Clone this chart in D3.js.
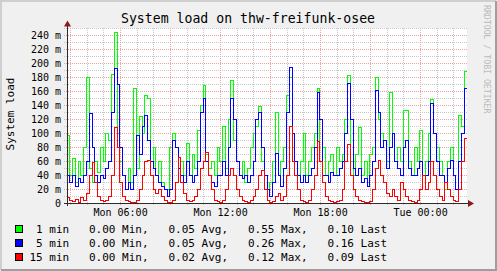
<!DOCTYPE html>
<html>
<head>
<meta charset="utf-8">
<script src="https://cdn.jsdelivr.net/npm/d3@7"></script>
<style>
  body { margin: 0; background: #f0f0f0; }
  svg { display: block; }
  text { font-family: "DejaVu Sans Mono", monospace; fill: #000; }
</style>
</head>
<body>
<svg id="chart" width="497" height="271"></svg>
<script>
// load values in milli, one per 10 minutes starting Mon 02:49
var load1 = [
  97, 40, 65, 30, 60, 40, 80, 180, 50, 30, 60, 45,
  80, 60, 100, 90, 185, 245, 100, 60, 40, 20, 50, 30,
  164, 50, 125, 100, 155, 150, 60, 80, 40, 60, 30, 20,
  20, 80, 100, 80, 50, 60, 40, 86, 40, 70, 50, 104,
  140, 169, 70, 50, 60, 40, 80, 60, 110, 50, 120, 176,
  90, 60, 40, 60, 30, 50, 80, 100, 110, 138, 60, 40,
  20, 30, 60, 130, 40, 60, 80, 154, 180, 80, 60, 40,
  60, 100, 40, 60, 80, 100, 165, 60, 80, 40, 60, 70,
  40, 80, 60, 70, 120, 183, 60, 40, 70, 109, 40, 60,
  30, 70, 80, 180, 120, 100, 90, 60, 159, 100, 60, 80,
  60, 133, 133, 60, 40, 80, 60, 104, 40, 60, 100, 149,
  100, 80, 60, 40, 20, 60, 80, 40, 20, 126, 110, 188
]
var load5 = [
  40, 30, 40, 25, 35, 30, 40, 60, 128, 80, 40, 30,
  40, 35, 50, 60, 130, 193, 170, 80, 40, 20, 30, 20,
  40, 97, 70, 110, 126, 90, 60, 50, 40, 30, 25, 20,
  10, 20, 90, 80, 50, 40, 30, 60, 40, 30, 40, 60,
  130, 150, 60, 40, 30, 25, 40, 40, 60, 40, 80, 150,
  120, 60, 40, 35, 40, 30, 40, 60, 120, 130, 80, 40,
  20, 10, 30, 71, 40, 25, 50, 130, 195, 100, 60, 40,
  30, 40, 30, 40, 50, 80, 159, 120, 40, 40, 30, 45,
  40, 40, 50, 60, 100, 171, 120, 50, 40, 50, 30, 35,
  25, 40, 60, 161, 130, 80, 90, 50, 80, 100, 60, 50,
  40, 80, 90, 50, 40, 40, 50, 60, 40, 40, 60, 143,
  100, 60, 40, 40, 30, 50, 61, 40, 20, 60, 100, 164
]
var load15 = [
  8, 5, 3, 6, 2, 8, 5, 15, 40, 59, 30, 10,
  5, 3, 5, 10, 40, 108, 80, 30, 10, 5, 3, 2,
  2, 5, 20, 40, 60, 61, 40, 20, 15, 20, 10, 5,
  2, 1, 5, 30, 66, 30, 15, 5, 3, 5, 10, 20,
  50, 60, 73, 40, 20, 5, 3, 2, 5, 20, 40, 50,
  40, 20, 10, 5, 3, 2, 5, 10, 20, 40, 47, 20,
  5, 2, 3, 10, 15, 5, 10, 40, 110, 60, 40, 20,
  5, 3, 2, 5, 20, 40, 88, 60, 30, 10, 5, 3,
  2, 3, 5, 20, 60, 85, 40, 20, 10, 5, 3, 2,
  2, 3, 20, 50, 61, 40, 30, 15, 10, 20, 10, 5,
  30, 20, 10, 5, 3, 2, 5, 20, 40, 20, 30, 60,
  40, 20, 10, 5, 30, 20, 10, 5, 3, 20, 60, 93
]
var seriesNames = [' 1 min', ' 5 min', '15 min']
var seriesColors = ['#00ff00', '#0000ff', '#ff0000']
var legendStats = [
  ['0.00', '0.05', '0.55', '0.10'],
  ['0.00', '0.05', '0.26', '0.16'],
  ['0.00', '0.02', '0.12', '0.09']
]
var yTicks = d3.range(0, 241, 20)

var startTime = new Date(2024, 0, 1, 2, 49),
    endTime = new Date(2024, 0, 2, 2, 49),
    stepMs = 10 * 60 * 1000

var svg = d3.select('#chart')
var W = 497, H = 271
var plotLeft = 67, plotRight = 467, plotTop = 28, plotBottom = 203

// background and frame
svg.append('rect').attr('width', W).attr('height', H).attr('fill', '#f0f0f0')
svg.append('path').attr('d', 'M1,' + (H - 1) + 'V1H' + (W - 1))
  .attr('fill', 'none').attr('stroke', '#cfcfcf').attr('stroke-width', 2)
svg.append('path').attr('d', 'M1,' + (H - 1) + 'H' + (W - 1) + 'V1')
  .attr('fill', 'none').attr('stroke', '#9e9e9e').attr('stroke-width', 2)
svg.append('rect').attr('x', plotLeft).attr('y', plotTop)
  .attr('width', plotRight - plotLeft).attr('height', plotBottom - plotTop).attr('fill', '#fff')

var x = d3.scaleTime().domain([startTime, endTime]).range([plotLeft, plotRight])
var y = d3.scaleLinear().domain([0, 250]).range([plotBottom, plotTop])

// grid
var grid = svg.append('g').attr('shape-rendering', 'crispEdges')
grid.selectAll('.hgrid')
  .data(d3.range(0, 251, 10))
  .enter().append('line')
  .attr('x1', plotLeft - 3).attr('x2', plotRight)
  .attr('y1', function(d){ return Math.round(y(d)) + 0.5 })
  .attr('y2', function(d){ return Math.round(y(d)) + 0.5 })
  .attr('stroke', function(d){ return d % 20 == 0 ? '#eba3a3' : '#c8c8c8' })
  .attr('stroke-dasharray', '1,1')
grid.selectAll('.vgrid')
  .data(x.ticks(d3.timeHour.every(1)))
  .enter().append('line')
  .attr('x1', function(d){ return Math.round(x(d)) + 0.5 })
  .attr('x2', function(d){ return Math.round(x(d)) + 0.5 })
  .attr('y1', plotTop).attr('y2', plotBottom + 3)
  .attr('stroke', function(d){ return d.getHours() % 3 == 0 ? '#eba3a3' : '#c8c8c8' })
  .attr('stroke-dasharray', '1,1')

// series
svg.append('clipPath').attr('id', 'plotclip')
  .append('rect').attr('x', plotLeft).attr('y', plotTop - 5)
  .attr('width', plotRight - plotLeft).attr('height', plotBottom - plotTop + 6)

var line = d3.line()
  .x(function(d, i){ return x(new Date(startTime.getTime() + i * stepMs)) })
  .y(function(d){ return Math.round(y(d)) + 0.5 })
  .curve(d3.curveStepAfter)

;[load1, load5, load15].forEach(function(vals, k){
  svg.append('path')
    .attr('clip-path', 'url(#plotclip)')
    .attr('d', line(vals.concat([vals[vals.length - 1]])))
    .attr('fill', 'none')
    .attr('stroke', seriesColors[k])
    .attr('stroke-width', 1)
    .attr('shape-rendering', 'crispEdges')
})

// axes lines and arrows
svg.append('line').attr('x1', plotLeft + 0.5).attr('x2', plotLeft + 0.5)
  .attr('y1', plotBottom + 3).attr('y2', 23).attr('stroke', '#2c2c2c')
svg.append('line').attr('x1', plotLeft - 3).attr('x2', 470)
  .attr('y1', plotBottom + 0.5).attr('y2', plotBottom + 0.5).attr('stroke', '#2c2c2c')
svg.append('path').attr('d', 'M64,26.5L71,26.5L67.5,20.5Z').attr('fill', '#8b1a1a')
svg.append('path').attr('d', 'M468,200L468,207L474,203.5Z').attr('fill', '#8b1a1a')

// axis labels
var xAxis = svg.append('g').attr('transform', 'translate(0,' + plotBottom + ')')
  .call(d3.axisBottom(x).ticks(d3.timeHour.every(6))
    .tickFormat(d3.timeFormat('%a %H:%M')).tickSize(0).tickPadding(6))
xAxis.select('.domain').remove()
xAxis.selectAll('text').attr('font-family', 'DejaVu Sans Mono').attr('font-size', '10px').attr('fill', '#000')

var yAxis = svg.append('g').attr('transform', 'translate(' + plotLeft + ',0)')
  .call(d3.axisLeft(y).tickValues(yTicks)
    .tickFormat(function(v){ return v ? v + ' m' : '0' }).tickSize(0).tickPadding(6))
yAxis.select('.domain').remove()
yAxis.selectAll('text').attr('font-family', 'DejaVu Sans Mono').attr('font-size', '10px').attr('fill', '#000')

// titles
svg.append('text').attr('x', 248).attr('y', 23).attr('text-anchor', 'middle')
  .attr('font-size', '13.2px').text('System load on thw-freifunk-osee')
svg.append('text').attr('transform', 'translate(13.5,114) rotate(-90)')
  .attr('text-anchor', 'middle').attr('font-size', '11px').text('System load')
svg.append('text').attr('transform', 'translate(483.5,5) rotate(90)')
  .attr('font-size', '8.2px').style('fill', '#bbbbbb').text('RRDTOOL / TOBI OETIKER')

// legend
var legend = svg.selectAll('.legend').data(seriesNames)
  .enter().append('g').attr('class', 'legend')
  .attr('transform', function(d, i){ return 'translate(0,' + (i * 14) + ')' })
legend.append('rect')
  .attr('x', 15.5).attr('y', 225.5).attr('width', 7).attr('height', 7)
  .attr('fill', function(d, i){ return seriesColors[i] })
  .attr('stroke', '#000')
legend.append('text')
  .attr('x', 29.4).attr('y', 233).attr('font-size', '11px')
  .attr('xml:space', 'preserve').style('white-space', 'pre')
  .text(function(d, i){
    var s = legendStats[i]
    return d + '   ' + s[0] + ' Min,   ' + s[1] + ' Avg,   ' + s[2] + ' Max,   ' + s[3] + ' Last'
  })
</script>
</body>
</html>
